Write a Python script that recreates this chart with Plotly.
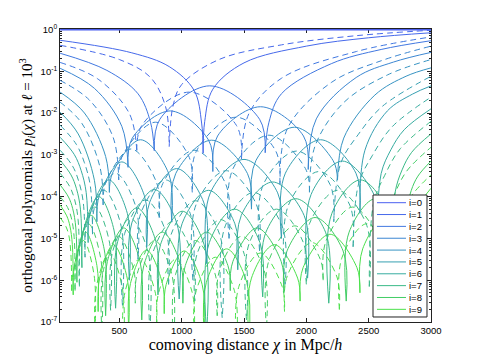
import plotly.graph_objects as go

# comoving distance chi [Mpc/h] and log10 |p_i(chi)|.
# None splits a curve at its zeros so the cusps stay sharp.
S0_X = [25, 3000]
S0_E = [0, 0]

S1_X = [25, 600, 900, 1100, 1160, 1172, None, 1172, 1185, 1250, 1500, 2000, 2500, 3000]
S1_E = [-0.26, -0.56, -0.89, -1.46, -2.24, -2.96, None, -2.96, -2.2, -1.43, -0.8, -0.4, -0.2, -0.08]
D1_X = [25, 500, 750, 870, 900, None, 900, 930, 1000, 1300, 1800, 2400, 3000]
D1_E = [-0.38, -0.72, -1.15, -1.84, -2.8, None, -2.8, -1.84, -1.32, -0.72, -0.37, -0.15, -0.02]

S2_X = [25, 400, 650, 750, 780, None, 780, 825, 1225, 1625, 1670, None, 1670, 1700, 1800, 2200, 2600, 3000]
S2_E = [-0.57, -0.98, -1.54, -2.22, -2.9, None, -2.9, -2.15, -1.35, -2.15, -2.95, None, -2.95, -2.22, -1.54, -0.82, -0.48, -0.27]
D2_X = [25, 330, 580, 640, None, 640, 680, 1060, 1440, 1480, None, 1480, 1540, 1800, 2400, 3000]
D2_E = [-0.79, -1.19, -2.01, -2.9, None, -2.9, -2.3, -1.5, -2.3, -3.1, None, -3.1, -2.01, -1.17, -0.53, -0.18]

S3_X = [25, 300, 520, 570, None, 570, 604, 910, 1216, 1250, None, 1250, 1288, 1632, 1977, 2015, None,
        2015, 2080, 2400, 2700, 3000]
S3_E = [-0.93, -1.41, -2.32, -3.3, None, -3.3, -2.6, -1.95, -2.65, -3.4, None, -3.4, -2.55, -1.85, -2.55, -3.35, None,
        -3.35, -2.14, -1.15, -0.78, -0.55]
D3_X = [25, 260, 450, 495, None, 495, 525, 790, 1055, 1085, None, 1085, 1120, 1436, 1753, 1788, None,
        1788, 1850, 2200, 2600, 3000]
D3_E = [-1.22, -1.69, -2.58, -3.6, None, -3.6, -3.02, -2.22, -3.02, -3.9, None, -3.9, -2.9, -2.1, -2.9, -3.7, None,
        -3.7, -2.36, -1.27, -0.75, -0.4]

S4_X = [25, 220, 390, 420, None, 420, 445, 670, 895, 920, None, 920, 952, 1240, 1528, 1560, None,
        1560, 1595, 1905, 2215, 2250, None, 2250, 2300, 2550, 2800, 3000]
S4_E = [-1.5, -2.0, -3.04, -3.9, None, -3.9, -3.44, -2.64, -3.44, -4.6, None, -4.6, -3.45, -2.65, -3.45, -4.3, None,
        -4.3, -3.14, -2.34, -3.14, -3.6, None, -3.6, -2.6, -1.57, -1.12, -0.92]
D4_X = [25, 200, 345, 370, None, 370, 392, 595, 798, 820, None, 820, 848, 1100, 1352, 1380, None,
        1380, 1412, 1700, 1993, 2025, None, 2025, 2070, 2300, 2650, 3000]
D4_E = [-1.74, -2.25, -3.3, -4.2, None, -4.2, -3.66, -2.86, -3.66, -4.5, None, -4.5, -3.69, -2.89, -3.69, -5.0, None,
        -5.0, -3.33, -2.53, -3.33, -3.9, None, -3.9, -2.79, -1.75, -1.09, -0.72]

S5_X = [25, 170, 300, 320, None, 320, 340, 520, 700, 720, None, 720, 744, 960, 1176, 1200, None,
        1200, 1230, 1500, 1770, 1800, None, 1800, 1832, 2115, 2398, 2430, None, 2430, 2470, 2650, 2850, 3000]
S5_E = [-1.98, -2.5, -3.61, -4.6, None, -4.6, -3.97, -3.17, -3.97, -5.2, None, -5.2, -4.13, -3.33, -4.13, -5.6, None,
        -5.6, -3.91, -3.11, -3.91, -5.0, None, -5.0, -3.44, -2.64, -3.44, -4.4, None, -4.4, -2.89, -1.95, -1.55, -1.35]
D5_X = [25, 155, 220, 267, 285, None, 285, 303, 468, 632, 650, None, 650, 672, 870, 1068, 1090, None,
        1090, 1117, 1358, 1598, 1625, None, 1625, 1655, 1922, 2190, 2220, None, 2220, 2275, 2415, 2610, 3000]
D5_E = [-2.29, -2.75, -3.19, -3.74, -4.9, None, -4.9, -4.24, -3.44, -4.24, -5.5, None, -5.5, -4.4, -3.6, -4.4, -6.0, None,
        -6.0, -4.18, -3.38, -4.18, -5.3, None, -5.3, -3.71, -2.91, -3.71, -4.6, None, -4.6, -3.21, -2.52, -1.84, -1.12]

S6_X = [25, 138, 194, 234, 250, None, 250, 266, 415, 564, 580, None, 580, 600, 780, 960, 980, None,
        980, 1003, 1215, 1427, 1450, None, 1450, 1478, 1730, 1982, 2010, None, 2010, 2038, 2290, 2542, 2570, None,
        2570, 2600, 2678, 2785, 3000]
S6_E = [-2.58, -2.99, -3.38, -3.9, -5.1, None, -5.1, -4.4, -3.6, -4.4, -6.0, None, -6.0, -4.63, -3.83, -4.63, -6.45, None,
        -6.45, -4.65, -3.85, -4.65, -5.75, None, -5.75, -4.45, -3.65, -4.45, -5.95, None, -5.95, -3.95, -3.15, -3.95, -4.75, None,
        -4.75, -3.45, -2.88, -2.4, -1.9]
D6_X = [25, 125, 175, 211, 225, None, 225, 240, 375, 510, 525, None, 525, 543, 710, 877, 895, None,
        895, 916, 1110, 1304, 1325, None, 1325, 1350, 1578, 1805, 1830, None, 1830, 1857, 2102, 2348, 2375, None,
        2375, 2419, 2531, 2688, 3000]
D6_E = [-2.89, -3.27, -3.64, -4.15, -5.45, None, -5.45, -4.65, -3.85, -4.65, -6.6, None, -6.6, -4.88, -4.08, -4.88, -6.1, None,
        -6.1, -4.9, -4.1, -4.9, -6.9, None, -6.9, -4.7, -3.9, -4.7, -6.1, None, -6.1, -4.2, -3.4, -4.2, -5.2, None,
        -5.2, -3.7, -3.01, -2.33, -1.62]

S7_X = [25, 112, 156, 188, 200, None, 200, 213, 335, 457, 470, None, 470, 487, 640, 793, 810, None,
        810, 830, 1005, 1180, 1200, None, 1200, 1222, 1425, 1628, 1650, None, 1650, 1676, 1915, 2154, 2180, None,
        2180, 2205, 2435, 2664, 2690, None, 2690, 2712, 2768, 2845, 3000]
S7_E = [-3.13, -3.48, -3.81, -4.3, -5.7, None, -5.7, -4.8, -4.0, -4.8, -6.67, None, -6.67, -5.07, -4.27, -5.07, -6.35, None,
        -6.35, -5.15, -4.35, -5.15, -7.25, None, -7.25, -5.1, -4.3, -5.1, -6.4, None, -6.4, -4.85, -4.05, -4.85, -6.55, None,
        -6.55, -4.4, -3.6, -4.4, -5.3, None, -5.3, -3.9, -3.36, -2.94, -2.5]
D7_X = [25, 102, 141, 169, 180, None, 180, 192, 305, 418, 430, None, 430, 446, 588, 729, 745, None,
        745, 763, 925, 1087, 1105, None, 1105, 1126, 1312, 1499, 1520, None, 1520, 1544, 1760, 1976, 2000, None,
        2000, 2025, 2252, 2480, 2505, None, 2505, 2540, 2629, 2752, 3000]
D7_E = [-3.44, -3.76, -4.07, -4.55, -6.15, None, -6.15, -5.05, -4.25, -5.05, -6.72, None, -6.72, -5.32, -4.52, -5.32, -7.2, None,
        -7.2, -5.4, -4.6, -5.4, -6.5, None, -6.5, -5.35, -4.55, -5.35, -6.95, None, -6.95, -5.1, -4.3, -5.1, -6.1, None,
        -6.1, -4.65, -3.85, -4.65, -6.15, None, -6.15, -4.15, -3.49, -2.86, -2.2]

S8_X = [25, 92, 126, 151, 160, None, 160, 172, 275, 378, 390, None, 390, 404, 535, 666, 680, None,
        680, 696, 845, 994, 1010, None, 1010, 1029, 1200, 1371, 1390, None, 1390, 1411, 1605, 1798, 1820, None,
        1820, 1845, 2070, 2295, 2320, None, 2320, 2343, 2555, 2766, 2790, None, 2790, 2805, 2842, 2895, 3000]
S8_E = [-3.72, -4.01, -4.29, -4.75, -6.05, None, -6.05, -5.25, -4.45, -5.25, -6.85, None, -6.85, -5.55, -4.75, -5.55, -6.95, None,
        -6.95, -5.65, -4.85, -5.65, -6.55, None, -6.55, -5.65, -4.85, -5.65, -6.25, None, -6.25, -5.55, -4.75, -5.55, -6.3, None,
        -6.3, -5.3, -4.5, -5.3, -6.5, None, -6.5, -4.85, -4.05, -4.85, -5.55, None, -5.55, -4.35, -3.85, -3.51, -3.15]
D8_X = [25, 85, 115, 137, 145, None, 145, 156, 252, 349, 360, None, 360, 373, 494, 615, 628, None,
        628, 643, 782, 920, 935, None, 935, 952, 1110, 1268, 1285, None, 1285, 1305, 1482, 1660, 1680, None,
        1680, 1703, 1908, 2112, 2135, None, 2135, 2159, 2372, 2586, 2610, None, 2610, 2637, 2708, 2805, 3000]
D8_E = [-4.0, -4.26, -4.51, -4.95, -6.25, None, -6.25, -5.45, -4.65, -5.45, -7.25, None, -7.25, -5.75, -4.95, -5.75, -6.55, None,
        -6.55, -5.85, -5.05, -5.85, -7.55, None, -7.55, -5.85, -5.05, -5.85, -6.85, None, -6.85, -5.75, -4.95, -5.75, -7.15, None,
        -7.15, -5.5, -4.7, -5.5, -6.0, None, -6.0, -5.05, -4.25, -5.05, -6.15, None, -6.15, -4.55, -3.94, -3.39, -2.82]

S9_X = [25, 78, 104, 123, 130, None, 130, 140, 230, 320, 330, None, 330, 342, 452, 563, 575, None,
        575, 589, 718, 846, 860, None, 860, 876, 1020, 1164, 1180, None, 1180, 1198, 1360, 1522, 1540, None,
        1540, 1560, 1745, 1930, 1950, None, 1950, 1974, 2190, 2406, 2430, None, 2430, 2452, 2650, 2848, 2870, None,
        2870, 2879, 2902, 2935, 3000]
S9_E = [-4.2, -4.46, -4.71, -5.15, -6.35, None, -6.35, -5.65, -4.85, -5.65, -6.75, None, -6.75, -5.95, -5.15, -5.95, -7.18, None,
        -7.18, -6.08, -5.28, -6.08, -6.8, None, -6.8, -6.1, -5.3, -6.1, -7.3, None, -7.3, -6.05, -5.25, -6.05, -7.45, None,
        -7.45, -5.95, -5.15, -5.95, -6.5, None, -6.5, -5.7, -4.9, -5.7, -6.3, None, -6.3, -5.25, -4.45, -5.25, -5.95, None,
        -5.95, -4.75, -4.31, -4.06, -3.8]
D9_X = [25, 72, 95, 111, 118, None, 118, 127, 212, 296, 305, None, 305, 316, 419, 522, 533, None,
        533, 546, 667, 787, 800, None, 800, 815, 950, 1085, 1100, None, 1100, 1117, 1270, 1423, 1440, None,
        1440, 1459, 1632, 1806, 1825, None, 1825, 1847, 2045, 2243, 2265, None, 2265, 2287, 2485, 2683, 2705, None,
        2705, 2726, 2779, 2852, 3000]
D9_E = [-4.5, -4.72, -4.93, -5.35, -6.25, None, -6.25, -5.85, -5.05, -5.85, -7.25, None, -7.25, -6.15, -5.35, -6.15, -7.88, None,
        -7.88, -6.28, -5.48, -6.28, -7.0, None, -7.0, -6.3, -5.5, -6.3, -7.3, None, -7.3, -6.25, -5.45, -6.25, -7.65, None,
        -7.65, -6.15, -5.35, -6.15, -6.75, None, -6.75, -5.9, -5.1, -5.9, -6.7, None, -6.7, -5.45, -4.65, -5.45, -6.15, None,
        -6.15, -4.95, -4.39, -3.95, -3.48]

LABELS = ["i=0", "i=1", "i=2", "i=3", "i=4", "i=5", "i=6", "i=7", "i=8", "i=9"]
X_TICKS = [500, 1000, 1500, 2000, 2500, 3000]
Y_EXP = [-7, -6, -5, -4, -3, -2, -1, 0]

SOLID = [(S0_X, S0_E), (S1_X, S1_E), (S2_X, S2_E), (S3_X, S3_E), (S4_X, S4_E),
         (S5_X, S5_E), (S6_X, S6_E), (S7_X, S7_E), (S8_X, S8_E), (S9_X, S9_E)]
DASHED = [None, (D1_X, D1_E), (D2_X, D2_E), (D3_X, D3_E), (D4_X, D4_E),
          (D5_X, D5_E), (D6_X, D6_E), (D7_X, D7_E), (D8_X, D8_E), (D9_X, D9_E)]

COLORS = ["rgb(75,95,240)", "rgb(70,105,235)", "rgb(65,120,225)", "rgb(60,135,210)", "rgb(55,148,195)",
          "rgb(55,160,178)", "rgb(55,172,160)", "rgb(58,186,135)", "rgb(65,205,100)", "rgb(75,225,75)"]


def to_y(exps):
    return [None if v is None else 10 ** v for v in exps]


fig = go.Figure()
for i in range(9, -1, -1):
    x, e = SOLID[i]
    fig.add_trace(go.Scatter(x=x, y=to_y(e), mode="lines", name=LABELS[i], showlegend=False,
                             line=dict(color=COLORS[i], width=2.4 if i == 0 else 1, shape="spline")))
    if DASHED[i] is not None:
        x, e = DASHED[i]
        fig.add_trace(go.Scatter(x=x, y=to_y(e), mode="lines", showlegend=False,
                                 line=dict(color=COLORS[i], width=1, dash="6px,4px", shape="spline")))

# legend drawn by hand (plotly's legend rows are too tall for this layout)
shapes = [dict(type="rect", xref="paper", yref="paper", x0=0.8437, x1=0.9892, y0=0.0171, y1=0.4334,
               line=dict(color="#222", width=1), fillcolor="white")]
annotations = []
for k, lab in enumerate(LABELS):
    yk = 0.4072 - 0.04044 * k
    shapes.append(dict(type="line", xref="paper", yref="paper", x0=0.8544, x1=0.9326, y0=yk, y1=yk,
                       line=dict(color=COLORS[k], width=1)))
    annotations.append(dict(text=lab, xref="paper", yref="paper", x=0.936, y=yk, xanchor="left",
                            yanchor="middle", showarrow=False,
                            font=dict(family="Liberation Sans, Arial", size=9.5, color="black")))

minor_vals = [m * 10 ** p for p in range(-7, 0) for m in range(2, 10)]

# the page body adds an 8 px margin on every side, so the figure is 16 px smaller
fig.update_layout(
    template="none",
    width=461, height=347,
    margin=dict(l=52, r=38, t=21, b=33),
    paper_bgcolor="white", plot_bgcolor="white",
    font=dict(family="Liberation Sans, Arial, sans-serif", size=9.5, color="black"),
    showlegend=False,
    shapes=shapes,
    annotations=annotations,
    xaxis=dict(range=[24, 3000], tickvals=X_TICKS, ticks="inside", ticklen=4, tickcolor="#222",
               mirror="allticks", showline=True, linecolor="#222", linewidth=1, layer="below traces",
               showgrid=False, zeroline=False, automargin=False,
               title=dict(text="comoving distance <i>χ</i> in Mpc/<i>h</i>", standoff=0,
                          font=dict(family="Liberation Serif, Times New Roman, serif", size=16))),
    yaxis=dict(type="log", range=[-7, 0.01], tickvals=[10 ** p for p in Y_EXP],
               ticktext=["10<sup>%d</sup>" % p for p in Y_EXP],
               ticks="inside", ticklen=4, tickcolor="#222",
               minor=dict(ticks="inside", ticklen=2, tickvals=minor_vals, tickcolor="#222"),
               mirror="allticks", showline=True, linecolor="#222", linewidth=1, layer="below traces",
               showgrid=False, zeroline=False, automargin=False,
               title=dict(text="orthogonal polynomials <i>p<sub>i</sub></i>(<i>χ</i>) at <i>ℓ</i> = 10<sup>3</sup>",
                          standoff=4, font=dict(family="Liberation Serif, Times New Roman, serif", size=15))),
)

fig.write_html("out.html")
